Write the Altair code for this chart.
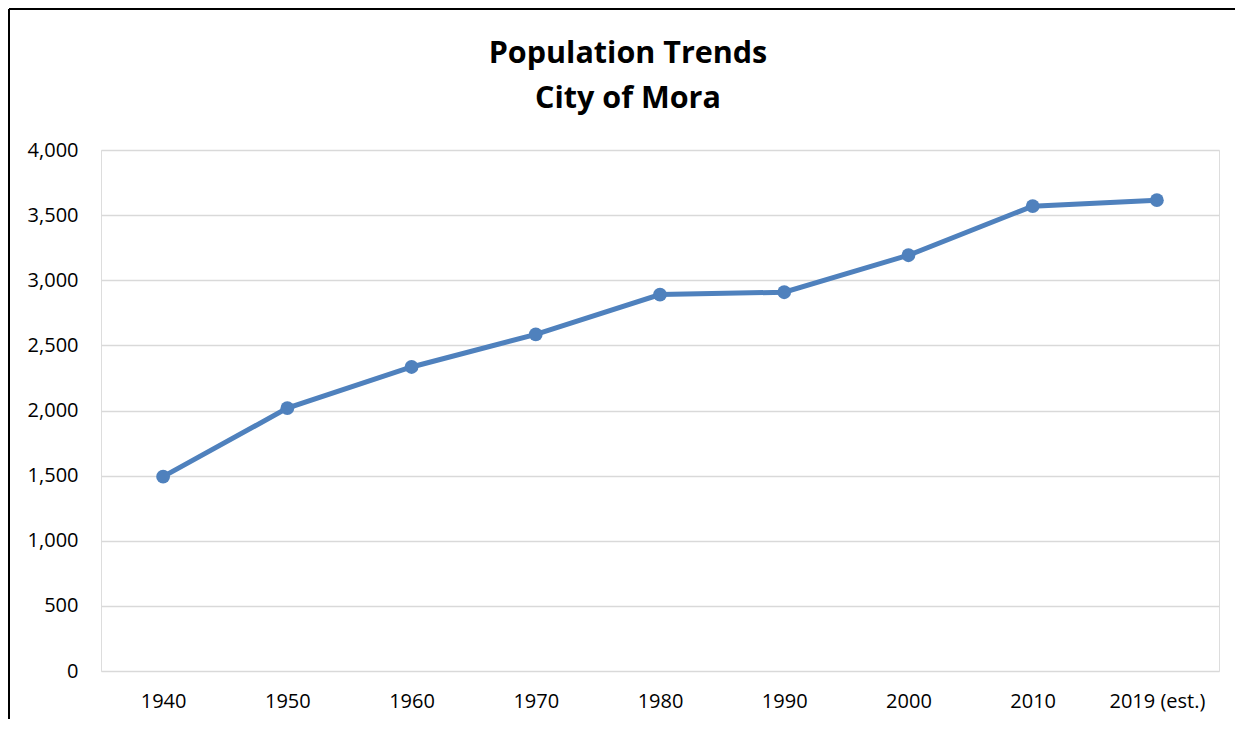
import altair as alt
import pandas as pd

years = ["1940", "1950", "1960", "1970", "1980", "1990", "2000", "2010", "2019 (est.)"]
population = [1492, 2018, 2334, 2585, 2890, 2908, 3192, 3569, 3615]

df = pd.DataFrame({"Year": years, "Population": population})

W, H = 1118, 521
PL, PT, PR, PB = 93, 142, 16, 48
FONT = "Open Sans"
BLUE = "#4F81BD"

x = alt.X("Year:N", sort=years, title=None,
          scale=alt.Scale(paddingInner=0, paddingOuter=0.5),
          axis=alt.Axis(labelAngle=0, labelFontSize=20, labelFont=FONT, labelColor="#000000",
                        labelPadding=20, ticks=False, domain=False, grid=False))
y = alt.Y("Population:Q", title=None,
          scale=alt.Scale(domain=[0, 4000], nice=False),
          axis=alt.Axis(values=list(range(0, 4001, 500)), format=",.0f", labelFontSize=20,
                        labelFont=FONT, labelColor="#000000", labelPadding=23,
                        ticks=False, domain=False, grid=True, gridColor="#D9D9D9",
                        gridWidth=1.5))

base = alt.Chart(df)
line = base.mark_line(color=BLUE, strokeWidth=5).encode(x=x, y=y)
pts = base.mark_point(filled=True, color=BLUE, opacity=1, size=190, shape="circle").encode(x=x, y=y)

left_border = alt.Chart(df).mark_rule(color="#000000", strokeWidth=2).encode(
    x=alt.value(-PL + 1), y=alt.value(-PT + 1), y2=alt.value(H + PB))
top_border = alt.Chart(df).mark_rule(color="#000000", strokeWidth=2).encode(
    x=alt.value(-PL + 1), x2=alt.value(W + PR), y=alt.value(-PT + 1))

chart = alt.layer(line, pts, left_border, top_border).properties(
    width=W, height=H,
    title=alt.TitleParams(text=["Population Trends", "City of Mora"], font=FONT,
                          fontSize=30.5, fontWeight="bold", color="#000000",
                          anchor="middle", dx=-32, lineHeight=45, offset=-106),
    autosize=alt.AutoSizeParams(type="none"),
    padding={"left": PL, "top": PT, "right": PR, "bottom": PB},
).configure_view(stroke=None).configure(background="#FFFFFF")

chart.save("out.html", embed_options={"renderer": "svg", "actions": False})
